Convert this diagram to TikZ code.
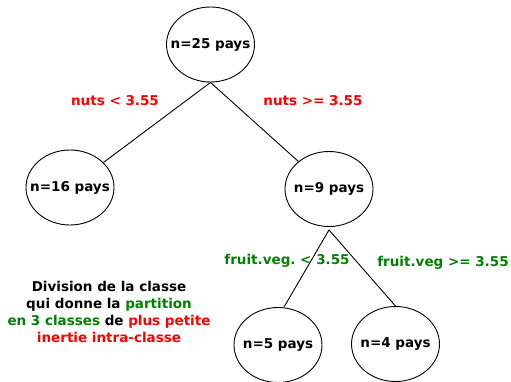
\documentclass[tikz,border=0pt]{standalone}
\usepackage{fontspec}
\setmainfont{DejaVu Sans}
\frenchspacing
\usetikzlibrary{shapes.geometric}
\definecolor{splitred}{RGB}{255, 0, 0}
\definecolor{splitgreen}{RGB}{0, 128, 0}

\begin{document}
\begin{tikzpicture}[x=1pt, y=-1pt, line width=0.9pt,
    every node/.style={font=\fontsize{13.5}{17}\selectfont\bfseries},
    classe/.style={draw, ellipse, inner sep=0pt,
                   minimum width=88pt, minimum height=75pt}]
        \useasboundingbox (0,0) rectangle (511,382);

        % NODES (text boxed to zero width so the ellipse keeps its size)
        \node[classe] (root) at (210.5,44.5) {\makebox[0pt]{n=25 pays}};
        \node[classe] (n16) at (70,187.5) {\makebox[0pt]{n=16 pays}};
        \node[classe] (n9) at (329,189) {\makebox[0pt]{n=9 pays}};
        \node[classe] (n5) at (278,345) {\makebox[0pt]{n=5 pays}};
        \node[classe] (n4) at (395.5,344) {\makebox[0pt]{n=4 pays}};

        % BRANCHES
        \draw (root.south) -- (n16);
        \draw (root.south) -- (n9);
        \draw ([yshift=-3pt]n9.south) -- ([xshift=6pt]n5.north);
        \draw ([yshift=-3pt]n9.south) -- (n4.north);

        % SPLIT RULES
        \node[splitred] (nutsinf) at (115,101) {nuts < 3.55};
        \node[splitred] (nutssup) at (313,101) {nuts >= 3.55};
        \node[splitgreen] (fvinf) at (287,261) {fruit.veg. < 3.55};
        \node[splitgreen] (fvsup) at (443,263) {fruit.veg >= 3.55};

        % COMMENT
        \node[align=center] (note) at (109,312) {Division de la classe\\
            qui donne la \textcolor{splitgreen}{partition}\\
            \textcolor{splitgreen}{en 3 classes} de \textcolor{splitred}{plus petite}\\
            \textcolor{splitred}{inertie intra-classe}};
      \end{tikzpicture}
\end{document}
